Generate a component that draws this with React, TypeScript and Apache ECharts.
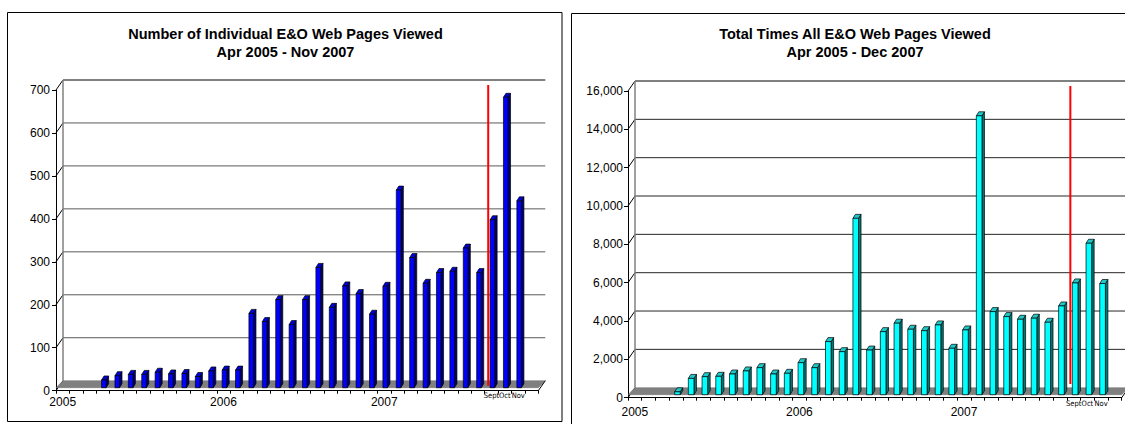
import React, { useEffect, useRef } from "react";
import * as echarts from "echarts";

// Timeline along the horizontal axis: every month from Jan 2005 to Dec 2007
const yearLabels = ["2005", "2006", "2007"];
const monthNames = ["Jan", "Feb", "Mar", "Apr", "May", "Jun", "Jul", "Aug", "Sep", "Oct", "Nov", "Dec"];
const lateMonthLabels = ["Sept", "Oct", "Nov"];
const axisMonths = yearLabels.flatMap((y) => monthNames.map((m) => `${m} ${y}`));

// Monthly bars run from Apr 2005 to Nov 2007
const firstBarMonth = "Apr 2005";
const markerMonth = "Sep 2007";

// Number of individual E&O web pages viewed per month
const individualPages = [
  18, 28, 31, 31, 36, 32, 33, 26, 39,
  41, 41, 173, 154, 205, 147, 205, 280, 187, 237, 219, 171,
  236, 460, 303, 243, 268, 271, 325, 268, 391, 676, 435,
];

// Total times all E&O web pages were viewed per month
const totalViews = [
  150, 850, 940, 960, 1080, 1240, 1410, 1080, 1115,
  1670, 1410, 2770, 2245, 9200, 2330, 3290, 3730, 3415, 3340, 3640, 2420,
  3380, 14550, 4335, 4075, 3935, 3990, 3780, 4630, 5830, 7900, 5800,
];

const individualTicks = [0, 100, 200, 300, 400, 500, 600, 700];
const totalTicks = [0, 2000, 4000, 6000, 8000, 10000, 12000, 14000, 16000];

const FONT = "'Liberation Sans', Arial, Helvetica, sans-serif";
const NARROW_FONT = "'Liberation Sans Narrow', 'Arial Narrow', 'DejaVu Sans Condensed', 'Liberation Sans', sans-serif";
const WALL_DEPTH: [number, number] = [7, -10];
const BAR_DEPTH: [number, number] = [2.5, -4];
const FLOOR_LIFT = -3;

type Panel = {
  title: string;
  subtitle: string;
  titleX: number;
  values: number[];
  ticks: number[];
  box: [number, number, number, number];
  grid: { left: number; top: number; width: number; height: number };
  colors: { front: string; side: string; top: string };
  gridColor: string;
  barWidthFrac: number;
  markerFrom: number;
  yLabelMargin: number;
  yearMargin: number;
  monthMargin: number;
};

const panels: Panel[] = [
  {
    title: "Number of Individual E&O Web Pages Viewed",
    subtitle: "Apr 2005 - Nov 2007",
    titleX: 285.5,
    values: individualPages,
    ticks: individualTicks,
    box: [7.5, 12.5, 554.5, 409],
    grid: { left: 56, top: 90, width: 482.3, height: 300.7 },
    colors: { front: "#0000ff", side: "#000070", top: "#0000d8" },
    gridColor: "#5a5a5a",
    barWidthFrac: 0.34,
    markerFrom: 0,
    yLabelMargin: 6,
    yearMargin: 5,
    monthMargin: 1,
  },
  {
    title: "Total Times All E&O Web Pages Viewed",
    subtitle: "Apr 2005 - Dec 2007",
    titleX: 855,
    values: totalViews,
    ticks: totalTicks,
    box: [571.5, 13.5, 570, 430],
    grid: { left: 628, top: 91, width: 493.7, height: 306.7 },
    colors: { front: "#00ffff", side: "#007878", top: "#20c8c8" },
    gridColor: "#262626",
    barWidthFrac: 0.41,
    markerFrom: 450,
    yLabelMargin: 5,
    yearMargin: 8,
    monthMargin: 2,
  },
];

const firstIndex = axisMonths.indexOf(firstBarMonth);
const markerIndex = axisMonths.indexOf(markerMonth);
const lateStart = firstIndex + individualPages.length - lateMonthLabels.length;

// Floor slab, back wall with its gridlines, left wall edge and the tick connectors
const wallRenderer = (ticks: number[], gridColor: string) => (_params: any, api: any) => {
  const [dx, dy] = WALL_DEPTH;
  const max = ticks[ticks.length - 1];
  const [x0, y0] = api.coord([0, 0]);
  const x1 = api.coord([axisMonths.length, 0])[0];
  const yTop = api.coord([0, max])[1];
  const children: any[] = [];
  ticks.forEach((t) => {
    const y = api.coord([0, t])[1];
    if (t > 0 && t < max) {
      children.push({
        type: "line",
        shape: { x1: x0 + dx, y1: y + dy, x2: x1 + dx, y2: y + dy },
        style: { stroke: gridColor, lineWidth: 1 },
      });
    }
    children.push({
      type: "line",
      shape: { x1: x0, y1: y, x2: x0 + dx, y2: y + dy },
      style: { stroke: "#000", lineWidth: 1 },
    });
  });
  children.push({
    type: "line",
    shape: { x1: x0 + dx, y1: yTop + dy, x2: x1 + dx, y2: yTop + dy },
    style: { stroke: "#808080", lineWidth: 2 },
  });
  children.push({
    type: "line",
    shape: { x1: x0 + dx, y1: y0 + dy, x2: x0 + dx, y2: yTop + dy },
    style: { stroke: "#808080", lineWidth: 1.5 },
  });
  children.push({
    type: "polygon",
    shape: {
      points: [
        [x0, y0 + FLOOR_LIFT],
        [x1, y0 + FLOOR_LIFT],
        [x1 + dx, y0 + dy],
        [x0 + dx, y0 + dy],
      ],
    },
    style: { fill: "#808080", stroke: "#6a6a6a", lineWidth: 0.5 },
  });
  children.push({
    type: "line",
    shape: { x1: x1, y1: y0, x2: x1 + dx, y2: y0 + dy },
    style: { stroke: "#000", lineWidth: 1 },
  });
  return { type: "group", children };
};

// A 3-D column: side face, top face and front face
const barRenderer =
  (colors: Panel["colors"], widthFrac: number) => (_params: any, api: any) => {
    const m = api.value(0);
    const v = api.value(1);
    const slot = api.size([1, 0])[0];
    const base = api.coord([m, 0]);
    const top = api.coord([m, v]);
    const fx = base[0] + slot * 0.4;
    const fw = slot * widthFrac;
    const yb = base[1] + FLOOR_LIFT;
    const yt = top[1] + FLOOR_LIFT;
    const [bx, by] = BAR_DEPTH;
    const edge = { stroke: "#000", lineWidth: 0.7 };
    return {
      type: "group",
      children: [
        {
          type: "polygon",
          shape: { points: [[fx + fw, yb], [fx + fw + bx, yb + by], [fx + fw + bx, yt + by], [fx + fw, yt]] },
          style: { fill: colors.side, ...edge },
        },
        {
          type: "polygon",
          shape: { points: [[fx, yt], [fx + bx, yt + by], [fx + fw + bx, yt + by], [fx + fw, yt]] },
          style: { fill: colors.top, ...edge },
        },
        {
          type: "rect",
          shape: { x: fx, y: yt, width: fw, height: yb - yt },
          style: { fill: colors.front, ...edge },
        },
      ],
    };
  };

// Vertical red marker at the start of September 2007, placed mid-depth
const markerRenderer = (from: number, max: number) => (_params: any, api: any) => {
  const m = api.value(0);
  const [dx, dy] = WALL_DEPTH;
  const a = api.coord([m, from]);
  const b = api.coord([m, max]);
  return {
    type: "line",
    shape: { x1: a[0] + dx / 2, y1: a[1] + dy / 2, x2: b[0] + dx / 2, y2: b[1] + dy / 2 },
    style: { stroke: "#ff0000", lineWidth: 2 },
  };
};

function buildOption() {
  const grid: any[] = [];
  const xAxis: any[] = [];
  const yAxis: any[] = [];
  const series: any[] = [];
  const graphic: any[] = [];

  panels.forEach((p, gi) => {
    const max = p.ticks[p.ticks.length - 1];
    const step = p.ticks[1] - p.ticks[0];
    grid.push({ ...p.grid, containLabel: false });

    const xBase = xAxis.length;
    xAxis.push({
      type: "value",
      gridIndex: gi,
      position: "bottom",
      min: 0,
      max: axisMonths.length,
      interval: 1,
      axisLine: { show: true, onZero: false, lineStyle: { color: "#000", width: 1 } },
      axisTick: { show: true, length: 3, lineStyle: { color: "#000" } },
      axisLabel: { show: false },
      splitLine: { show: false },
    });
    xAxis.push({
      type: "category",
      gridIndex: gi,
      position: "bottom",
      data: axisMonths,
      axisLine: { show: false },
      axisTick: { show: false },
      axisLabel: {
        interval: 0,
        margin: p.yearMargin,
        fontSize: 12,
        fontFamily: FONT,
        color: "#000",
        formatter: (_v: string, i: number) => (i % 12 === 0 ? yearLabels[i / 12] : ""),
      },
      splitLine: { show: false },
    });
    xAxis.push({
      type: "category",
      gridIndex: gi,
      position: "bottom",
      data: axisMonths,
      axisLine: { show: false },
      axisTick: { show: false },
      axisLabel: {
        interval: 0,
        margin: p.monthMargin,
        fontSize: 7.5,
        fontFamily: NARROW_FONT,
        color: "#000",
        hideOverlap: false,
        formatter: (_v: string, i: number) =>
          i >= lateStart && i < lateStart + lateMonthLabels.length ? lateMonthLabels[i - lateStart] : "",
      },
      splitLine: { show: false },
    });

    yAxis.push({
      type: "value",
      gridIndex: gi,
      min: 0,
      max,
      interval: step,
      axisLine: { show: true, lineStyle: { color: "#000", width: 1 } },
      axisTick: { show: true, length: 4, lineStyle: { color: "#000" } },
      axisLabel: {
        margin: p.yLabelMargin,
        fontSize: 12,
        fontFamily: FONT,
        color: "#000",
        formatter: (v: number) => v.toLocaleString("en-US"),
      },
      splitLine: { show: false },
    });

    series.push({
      type: "custom",
      xAxisIndex: xBase,
      yAxisIndex: gi,
      z: 1,
      silent: true,
      data: [[0]],
      renderItem: wallRenderer(p.ticks, p.gridColor),
    });
    series.push({
      type: "custom",
      name: p.title,
      xAxisIndex: xBase,
      yAxisIndex: gi,
      z: 2,
      data: p.values.map((v, i) => [firstIndex + i, v]),
      encode: { x: 0, y: 1 },
      renderItem: barRenderer(p.colors, p.barWidthFrac),
    });
    series.push({
      type: "custom",
      xAxisIndex: xBase,
      yAxisIndex: gi,
      z: 3,
      silent: true,
      data: [[markerIndex]],
      renderItem: markerRenderer(p.markerFrom, max),
    });

    const [bx, by, bw, bh] = p.box;
    graphic.push({
      type: "rect",
      shape: { x: bx, y: by, width: bw, height: bh },
      style: { fill: "none", stroke: "#000", lineWidth: 1 },
      silent: true,
    });
    [p.title, p.subtitle].forEach((text, li) => {
      graphic.push({
        type: "text",
        x: p.titleX,
        y: 34 + li * 18,
        style: {
          text,
          fill: "#000",
          fontSize: 14.5,
          fontWeight: "bold",
          fontFamily: FONT,
          align: "center",
          verticalAlign: "middle",
        },
      });
    });
  });

  return {
    animation: false,
    backgroundColor: "#ffffff",
    textStyle: { fontFamily: FONT },
    grid,
    xAxis,
    yAxis,
    series,
    graphic,
  };
}

export default function App() {
  const ref = useRef<HTMLDivElement>(null);

  useEffect(() => {
    if (!ref.current) return;
    const chart = echarts.init(ref.current, undefined, { renderer: "svg" });
    chart.setOption(buildOption() as any);
    return () => chart.dispose();
  }, []);

  return (
    <div
      ref={ref}
      style={{ position: "absolute", left: 0, top: 0, width: 1125, height: 424, background: "#fff" }}
    />
  );
}
